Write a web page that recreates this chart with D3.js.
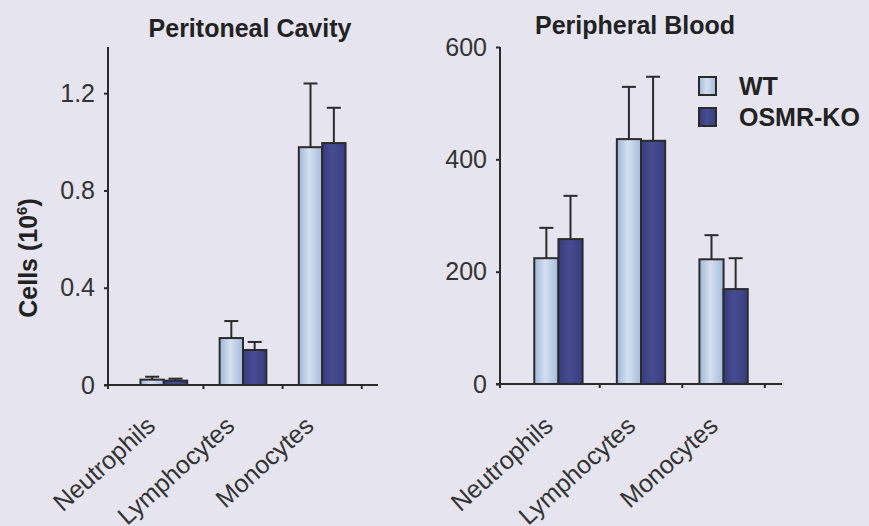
<!DOCTYPE html>
<html>
<head>
<meta charset="utf-8">
<script src="https://cdn.jsdelivr.net/npm/d3@7"></script>
<style>
  html, body { margin: 0; padding: 0; background: #e5e4ef; }
  svg { display: block; }
  text { font-family: Arial, "Liberation Sans", sans-serif; }
</style>
</head>
<body>
<svg id="chart" width="869" height="526"></svg>
<script>
// Cell counts per population, WT vs OSMR-KO (mean and upper error bound)
const categories = ["Neutrophils", "Lymphocytes", "Monocytes"];
const seriesNames = ["WT", "OSMR-KO"];

const peritonealWT = [0.022, 0.193, 0.978];
const peritonealWTErr = [0.034, 0.263, 1.24];
const peritonealKO = [0.018, 0.144, 0.995];
const peritonealKOErr = [0.026, 0.177, 1.14];
const peritonealTicks = [0, 0.4, 0.8, 1.2];
const peritonealTickLabels = ["0", "0.4", "0.8", "1.2"];

const bloodWT = [224, 436, 222];
const bloodWTErr = [278, 529, 265];
const bloodKO = [258, 433, 169];
const bloodKOErr = [335, 547, 224];
const bloodTicks = [0, 200, 400, 600];
const bloodTickLabels = ["0", "200", "400", "600"];

const svg = d3.select("#chart");
const defs = svg.append("defs");

// Shaded fills for the two series
const gWT = defs.append("linearGradient").attr("id", "fillWT").attr("x1", "0").attr("x2", "1").attr("y1", "0").attr("y2", "0");
gWT.append("stop").attr("offset", "0%").attr("stop-color", "#9fb5d8");
gWT.append("stop").attr("offset", "45%").attr("stop-color", "#d4e0ef");
gWT.append("stop").attr("offset", "100%").attr("stop-color", "#a4badb");
const gKO = defs.append("linearGradient").attr("id", "fillKO").attr("x1", "0").attr("x2", "1").attr("y1", "0").attr("y2", "0");
gKO.append("stop").attr("offset", "0%").attr("stop-color", "#363b7c");
gKO.append("stop").attr("offset", "45%").attr("stop-color", "#464c90");
gKO.append("stop").attr("offset", "100%").attr("stop-color", "#383d7f");
const fills = ["url(#fillWT)", "url(#fillKO)"];

const ink = "#2b2b2b";

function panel(opts) {
  const g = svg.append("g");
  const y = d3.scaleLinear().domain(opts.domain).range([opts.y0, opts.y1]);
  const x = d3.scaleBand().domain(categories).range([opts.x0, opts.x1]).padding(opts.pad);
  const xs = d3.scaleBand().domain(seriesNames).range([0, x.bandwidth()]);

  const rows = categories.map((c, i) => ({
    cat: c,
    vals: [
      { s: 0, v: opts.wt[i], e: opts.wtErr[i] },
      { s: 1, v: opts.ko[i], e: opts.koErr[i] }
    ]
  }));

  // error bars (upward only), drawn behind the bars
  rows.forEach(r => {
    r.vals.forEach(d => {
      const cx = x(r.cat) + xs(seriesNames[d.s]) + xs.bandwidth() / 2;
      g.append("line").attr("x1", cx).attr("x2", cx)
        .attr("y1", y(d.v)).attr("y2", y(d.e))
        .attr("stroke", ink).attr("stroke-width", 2);
      g.append("line").attr("x1", cx - 7).attr("x2", cx + 7)
        .attr("y1", y(d.e)).attr("y2", y(d.e))
        .attr("stroke", ink).attr("stroke-width", 2);
    });
  });

  // bars
  rows.forEach(r => {
    g.selectAll(null).data(r.vals).enter().append("rect")
      .attr("x", d => x(r.cat) + xs(seriesNames[d.s]))
      .attr("width", xs.bandwidth())
      .attr("y", d => y(d.v))
      .attr("height", d => y(0) - y(d.v))
      .attr("fill", d => fills[d.s])
      .attr("stroke", ink).attr("stroke-width", 2);
  });

  // y axis
  const yAxis = d3.axisLeft(y).tickValues(opts.ticks)
    .tickFormat((d, i) => opts.tickLabels[i]).tickSize(4).tickPadding(9);
  const ya = g.append("g").attr("transform", `translate(${opts.x0},0)`).call(yAxis);
  ya.select(".domain").attr("d", `M0,${y(opts.domain[1])}V${y(0)}`).attr("stroke", ink).attr("stroke-width", 2);
  ya.selectAll(".tick line").attr("stroke", ink).attr("stroke-width", 2);
  ya.selectAll(".tick text").attr("font-size", 25).attr("fill", "#333")
    .attr("font-family", "Arial, 'Liberation Sans', sans-serif");

  // x axis with boundary ticks between categories
  const xa = g.append("g").attr("transform", `translate(0,${y(0)})`);
  xa.append("line").attr("x1", opts.x0 - 4).attr("x2", opts.x1)
    .attr("stroke", ink).attr("stroke-width", 2);
  const step = x.step();
  xa.append("line").attr("x1", opts.x0).attr("x2", opts.x0).attr("y1", 0).attr("y2", 4)
    .attr("stroke", ink).attr("stroke-width", 2);
  categories.forEach(c => {
    const bx = x(c) + x.bandwidth() + (step - x.bandwidth()) / 2;
    xa.append("line").attr("x1", bx).attr("x2", bx).attr("y1", 0).attr("y2", 4)
      .attr("stroke", ink).attr("stroke-width", 2);
  });
  categories.forEach(c => {
    const cx = x(c) + x.bandwidth() / 2 + opts.labelDx;
    xa.append("text").attr("transform", `translate(${cx},${opts.labelDy}) rotate(-42)`)
      .attr("text-anchor", "end").attr("font-size", 25).attr("fill", "#333")
      .text(c);
  });

  // panel title
  g.append("text").attr("x", opts.titleX).attr("y", opts.titleY)
    .attr("text-anchor", "middle").attr("font-size", 25).attr("font-weight", "bold")
    .attr("fill", "#222").text(opts.title);
  return g;
}

panel({
  title: "Peritoneal Cavity", titleX: 250, titleY: 37,
  domain: [0, 1.39], y0: 385, y1: 47, x0: 108, x1: 378, pad: 0.41,
  labelDx: -7, labelDy: 43,
  wt: peritonealWT, wtErr: peritonealWTErr, ko: peritonealKO, koErr: peritonealKOErr,
  ticks: peritonealTicks, tickLabels: peritonealTickLabels
});

panel({
  title: "Peripheral Blood", titleX: 635, titleY: 34,
  domain: [0, 600], y0: 384, y1: 47, x0: 500, x1: 782, pad: 0.415,
  labelDx: -4, labelDy: 44,
  wt: bloodWT, wtErr: bloodWTErr, ko: bloodKO, koErr: bloodKOErr,
  ticks: bloodTicks, tickLabels: bloodTickLabels
});

// y axis title
const yt = svg.append("text").attr("transform", "translate(37,258) rotate(-90)")
  .attr("text-anchor", "middle").attr("font-size", 25).attr("font-weight", "bold").attr("fill", "#222");
yt.append("tspan").text("Cells (10");
yt.append("tspan").attr("font-size", 15).attr("dy", -10).text("6");
yt.append("tspan").attr("dy", 10).text(")");

// legend
const legend = svg.append("g");
seriesNames.forEach((s, i) => {
  const ly = 77 + i * 31;
  legend.append("rect").attr("x", 699).attr("y", ly).attr("width", 17).attr("height", 18)
    .attr("fill", fills[i]).attr("stroke", ink).attr("stroke-width", 2);
  legend.append("text").attr("x", 739).attr("y", ly + 18).attr("font-size", 25)
    .attr("font-weight", "bold").attr("fill", "#222").text(s);
});
</script>
</body>
</html>
